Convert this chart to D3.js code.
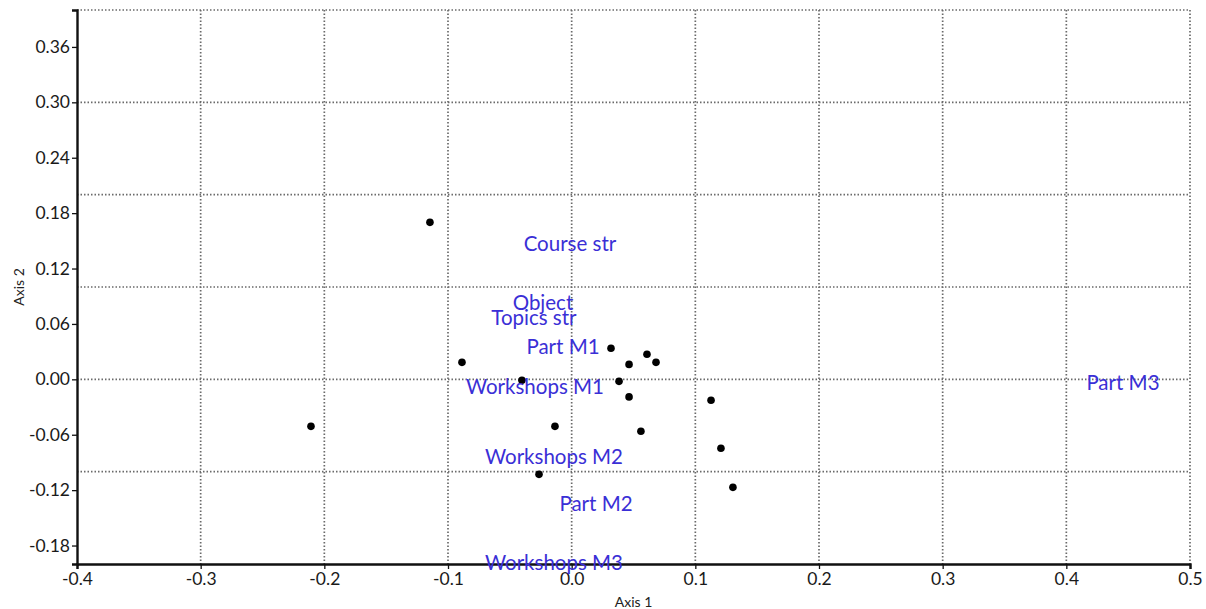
<!DOCTYPE html>
<html><head><meta charset="utf-8">
<script src="https://cdn.jsdelivr.net/npm/d3@7"></script>
<style>
body{margin:0;background:#fff;}
svg{display:block;font-family:Lato,sans-serif;}
</style></head>
<body><svg id="c" width="1206" height="609"></svg>
<script>
// Points (Axis 1, Axis 2)
const pointX = [-0.1146,-0.2108,-0.0887,-0.0402,0.0318,0.0464,0.0609,0.0682,0.0383,0.0464,0.1127,-0.0135,0.0560,0.1207,-0.0264,0.1304];
const pointY = [0.170,-0.0509,0.0184,-0.001,0.0336,0.0162,0.0271,0.0184,-0.0022,-0.019,-0.0227,-0.0509,-0.0563,-0.0747,-0.1029,-0.117];
// Variable labels
const labelNames = ["Course str","Object","Topics str","Part M1","Workshops M1","Workshops M2","Part M2","Workshops M3","Part M3"];
const labelX = [-0.0014,-0.0232,-0.0305,-0.0070,-0.0297,-0.0143,0.0197,-0.0143,0.4458];
const labelY = [0.1473,0.0837,0.0672,0.0361,-0.0076,-0.0834,-0.1343,-0.1982,-0.0032];
const xTicks = [-0.4,-0.3,-0.2,-0.1,0.0,0.1,0.2,0.3,0.4,0.5];
const yTicks = [-0.18,-0.12,-0.06,0.00,0.06,0.12,0.18,0.24,0.30,0.36];
const xGrid = [-0.3,-0.2,-0.1,0.0,0.1,0.2,0.3,0.4,0.5];
const yGrid = [-0.1,0.0,0.1,0.2,0.3,0.4];
const xDomain = [-0.4,0.5], yDomain = [-0.2,0.4];

const svg = d3.select("#c");
const L=77, R=1190, T=10, B=564;
const x = d3.scaleLinear().domain(xDomain).range([L,R]);
const y = d3.scaleLinear().domain(yDomain).range([B,T]);

const grid = svg.append("g").attr("stroke","#6a6a6a").attr("stroke-width",1.7).attr("stroke-dasharray","1.5 2");
grid.selectAll(".vx").data(xGrid).join("line").attr("x1",d=>x(d)).attr("x2",d=>x(d)).attr("y1",T).attr("y2",B);
grid.selectAll(".hy").data(yGrid).join("line").attr("y1",d=>y(d)).attr("y2",d=>y(d)).attr("x1",L).attr("x2",R);

const xa = svg.append("g").attr("transform",`translate(0,${B})`)
  .call(d3.axisBottom(x).tickValues(xTicks).tickFormat(d3.format(".1f")).tickSizeOuter(0).tickSize(5).tickPadding(4));
const ya = svg.append("g").attr("transform",`translate(${L},0)`)
  .call(d3.axisLeft(y).tickValues(yTicks).tickFormat(d3.format(".2f")).tickSizeOuter(0).tickSize(5).tickPadding(2));
[xa,ya].forEach(a=>{
  a.select(".domain").attr("stroke","#111").attr("stroke-width",2.4);
  a.selectAll(".tick line").attr("stroke","#111").attr("stroke-width",1.3);
  a.selectAll(".tick text").attr("fill","#1a1a1a").style("font-family","Lato").style("font-size","17.5px");
});
xa.selectAll(".tick text").text(d=>d3.format(".1f")(d).replace("−","-"));
ya.selectAll(".tick text").text(d=>d3.format(".2f")(d).replace("−","-"));

svg.append("text").attr("x",(L+R)/2).attr("y",601).attr("text-anchor","middle").attr("dominant-baseline","central")
  .style("font-size","14px").attr("fill","#222").text("Axis 1");
svg.append("text").attr("transform",`translate(18,${(T+B)/2}) rotate(-90)`).attr("text-anchor","middle").attr("dominant-baseline","central")
  .style("font-size","14px").attr("fill","#222").text("Axis 2");

svg.selectAll(".pt").data(pointX.map((v,i)=>[v,pointY[i]])).join("circle")
  .attr("cx",d=>x(d[0])).attr("cy",d=>y(d[1])).attr("r",3.8).attr("fill","#000");

svg.selectAll(".lb").data(labelNames.map((n,i)=>({n,x:labelX[i],y:labelY[i]}))).join("text")
  .attr("x",d=>x(d.x)).attr("y",d=>y(d.y)).attr("text-anchor","middle").attr("dominant-baseline","central")
  .attr("fill","#3a2fd6").style("font-size","20.5px").text(d=>d.n);
</script></body></html>
